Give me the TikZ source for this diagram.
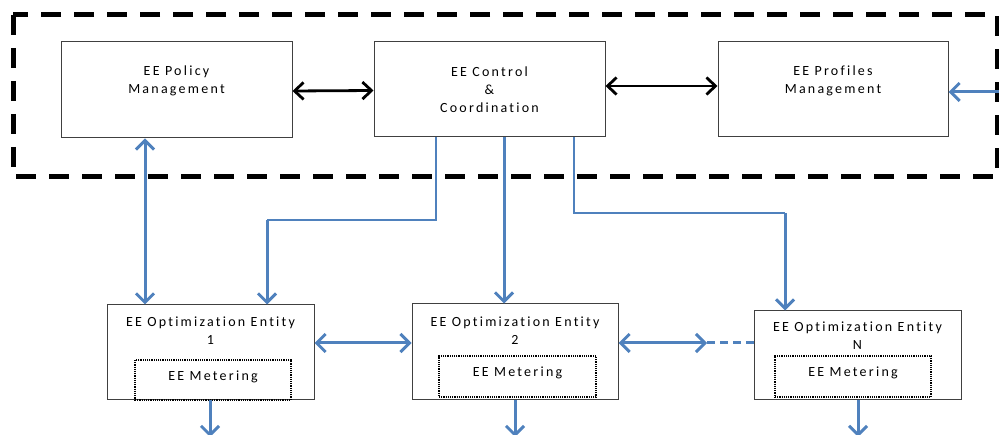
\documentclass[tikz,border=0pt]{standalone}
\usepackage{fontspec}
\setmainfont{Carlito}[LetterSpace=16,Ligatures=NoCommon]
\usetikzlibrary{arrows.meta}
\definecolor{eeblue}{HTML}{4F81BD}
\definecolor{boxline}{HTML}{404040}
\begin{document}
\begin{tikzpicture}[x=1pt,y=-1pt,
  box/.style={draw=boxline, line width=1pt, inner sep=0pt},
  meter/.style={draw=black, line width=1.2pt, densely dotted, inner sep=0pt},
  txt/.style={font=\fontsize{14}{18}\selectfont, align=center, inner sep=0pt},
  blk/.style={draw=black, line width=2.8pt, {Straight Barb[length=9pt,width=17pt]}-{Straight Barb[length=9pt,width=17pt]}},
  bthick/.style={draw=eeblue, line width=3pt},
  bthin/.style={draw=eeblue, line width=1.3pt},
  bhead/.style={-{Straight Barb[length=9pt,width=18pt]}},
  bboth/.style={{Straight Barb[length=9pt,width=18pt]}-{Straight Barb[length=9pt,width=18pt]}},
  frame/.style={draw=black, line width=5pt, dash pattern=on 20pt off 13pt}
]
\useasboundingbox (0,0) rectangle (999,435);

% outer dashed frame
\draw[frame] (13,15) rectangle (997,177);

% top boxes
\node[box, minimum width=231, minimum height=96] (pol) at (176.5,90) {};
\node[txt] (polt) at (176.5,80.5) {EE Policy\\Management};
\node[box, minimum width=231, minimum height=95] (ctl) at (489.5,89.5) {};
\node[txt] (ctlt) at (489.5,89.5) {EE Control\\\&\\Coordination};
\node[box, minimum width=230, minimum height=95] (prof) at (833,89.5) {};
\node[txt] (proft) at (833,80.5) {EE Profiles\\Management};

% optimization entities
\node[box, minimum width=207, minimum height=95] (o1) at (210.5,352.5) {};
\node[txt] (o1t) at (210.5,331) {EE Optimization Entity\\1};
\node[meter, minimum width=156, minimum height=40] (m1) at (213,380) {};
\node[txt] (m1t) at (213,377) {EE Metering};

\node[box, minimum width=206, minimum height=96] (o2) at (515,352) {};
\node[txt] (o2t) at (515,331) {EE Optimization Entity\\2};
\node[meter, minimum width=157, minimum height=41] (m2) at (517.5,376.5) {};
\node[txt] (m2t) at (517.5,373) {EE Metering};

\node[box, minimum width=207, minimum height=89] (oN) at (857.5,355.5) {};
\node[txt] (oNt) at (857.5,336) {EE Optimization Entity\\N};
\node[meter, minimum width=156, minimum height=41] (mN) at (853,376.5) {};
\node[txt] (mNt) at (853,373) {EE Metering};

% black arrows
\draw[blk] ([yshift=-1pt]pol.east) -- ([yshift=-1pt]ctl.west);
\draw[blk] ([yshift=3.5pt]ctl.east) -- ([yshift=3.5pt]prof.west);

% external arrow into profiles
\coordinate (ext) at (1002,92);
\draw[bthick,bhead] (ext) -- (prof.east |- ext);

% policy <-> opt1
\draw[bthick,bboth] (pol.south -| 145,0) -- (o1.north -| 145,0);

% control -> opt1
\coordinate (c1a) at (436,220);
\coordinate (c1b) at (267,220);
\draw[bthin] (ctl.south -| c1a) -- (c1a) -- (c1b);
\draw[bthick,bhead] (c1b) -- (o1.north -| c1b);

% control -> opt2
\draw[bthick,bhead] (ctl.south -| 504,0) -- (o2.north -| 504,0);

% control -> optN
\coordinate (cNa) at (574,213);
\coordinate (cNb) at (785,213);
\draw[bthin] (ctl.south -| cNa) -- (cNa) -- (cNb);
\draw[bthick,bhead] (cNb) -- (oN.north -| cNb);

% horizontal links between entities
\draw[bthick,bboth] (o1.east |- 0,343) -- (o2.west |- 0,343);
\coordinate (dl) at (707,343);
\draw[bthick,bboth] (o2.east |- dl) -- (dl);
\draw[bthick,dashed,dash pattern=on 8pt off 5pt] (dl) -- (oN.west |- dl);

% outputs
\coordinate (d1) at (210,437);
\coordinate (d2) at (515,437);
\coordinate (dN) at (858,437);
\draw[bthick,bhead] (o1.south -| d1) -- (d1);
\draw[bthick,bhead] (o2.south -| d2) -- (d2);
\draw[bthick,bhead] (oN.south -| dN) -- (dN);
\end{tikzpicture}
\end{document}
